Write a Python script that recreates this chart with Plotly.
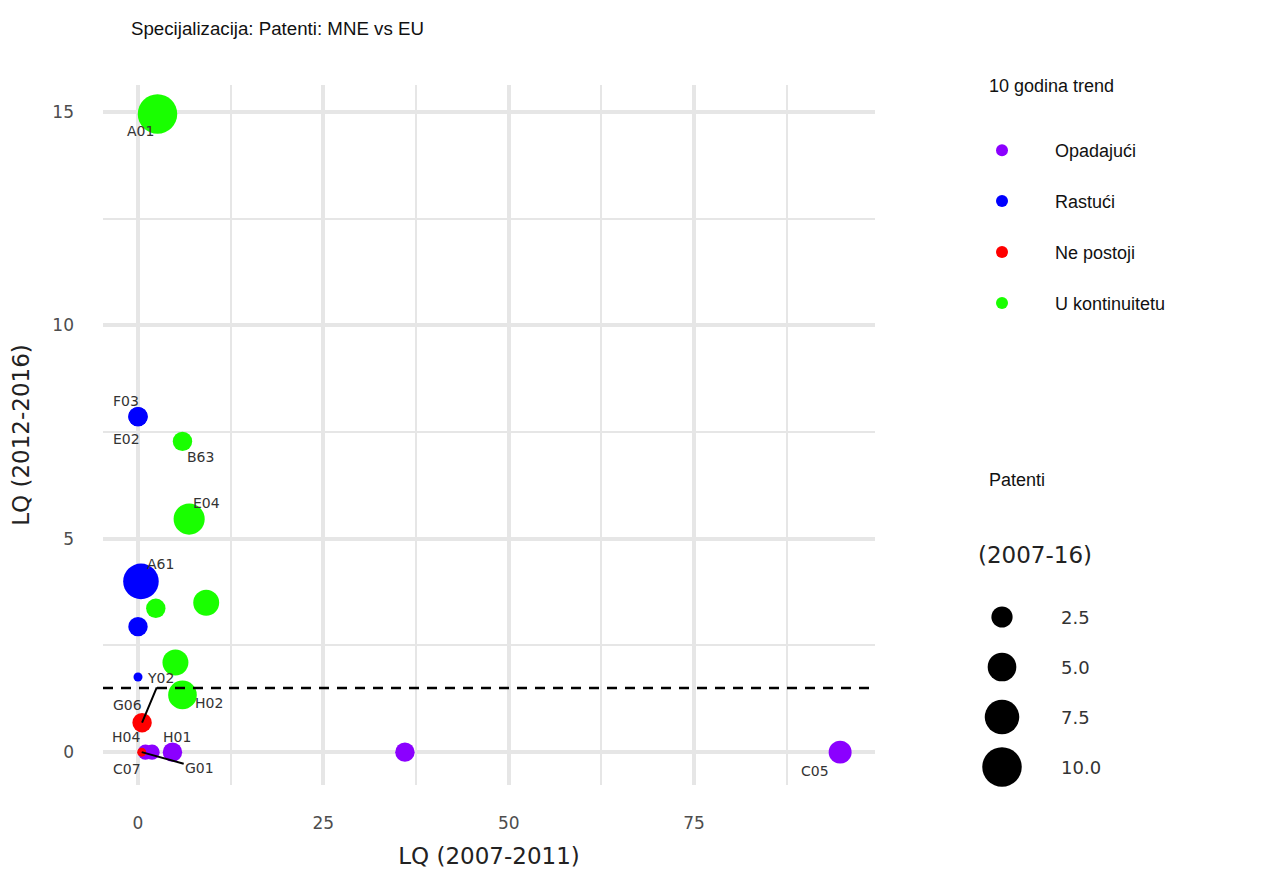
import math
import plotly.graph_objects as go

# ---------------- data ----------------
codes = ["H04", "C07", "H01", "", "C05",
         "F03", "E02", "A61", "", "G06",
         "Y02", "G01",
         "A01", "B63", "E04", "", "", "", "H02"]
lq_2007_2011 = [1.0, 1.9, 4.65, 36.0, 94.7,
                0.0, 0.0, 0.4, 0.0, 0.0,
                0.55, 0.5,
                2.63, 6.0, 6.9, 2.4, 9.2, 5.05, 6.0]
lq_2012_2016 = [0.0, 0.0, 0.0, 0.0, 0.0,
                7.86, 7.86, 4.0, 2.94, 1.76,
                0.69, 0.0,
                14.95, 7.28, 5.46, 3.37, 3.5, 2.1, 1.34]
patenti = [1, 1, 2, 2, 3,
           2, 2, 8, 2, 0,
           2, 0,
           10, 2, 6, 2, 4, 4, 5]
trend = ["Opadajući"] * 5 + ["Rastući"] * 5 + ["Ne postoji"] * 2 + ["U kontinuitetu"] * 7

trend_levels = ["Opadajući", "Rastući", "Ne postoji", "U kontinuitetu"]
size_breaks = [2.5, 5.0, 7.5, 10.0]
size_break_labels = ["2.5", "5.0", "7.5", "10.0"]
threshold = 1.5

title_text = "Specijalizacija: Patenti: MNE vs EU"
x_title = "LQ (2007-2011)"
y_title = "LQ (2012-2016)"
color_legend_title = "10 godina trend"
size_legend_title = "Patenti"
size_legend_sub = "(2007-16)"

# ---------------- styles ----------------
trend_colors = {"Opadajući": "#8B00FF", "Rastući": "#0000FF",
                "Ne postoji": "#FF0000", "U kontinuitetu": "#19FF00"}

# label offsets (pixels): (dx, dy) ; arrow labels use ax/ay
label_shift = {
    "A01": (-17.5, -17), "F03": (-12, 16), "E02": (-12, -22.5),
    "B63": (18, -16), "E04": (17, 16), "A61": (20, 17),
    "G06": (-11, -28), "H02": (27, -8), "H04": (-19, 15),
    "H01": (5, 15), "C07": (-25, -17), "C05": (-25, -19),
}
label_arrow = {"Y02": (18.7, -44.7), "G01": (58, 16)}

GRID = "#e6e6e6"
SANS = "Liberation Sans, Arial, sans-serif"
DV = "DejaVu Sans, Verdana, sans-serif"

# the page body adds an 8px offset; figure is sized so the plot lands where the reference has it
OFF = 8
W, H = 1283 - OFF, 870 - OFF
ML, MT, MB = 103 - OFF, 85 - OFF, 85
PW, PH = W - ML, H - MT - MB  # paper size in px (1180 x 700)


def px_x(p):  # page pixel -> paper x
    return (p - 103) / PW


def px_y(p):  # page pixel -> paper y
    return (785 - p) / PH


def size_scale(v):
    # bubble diameter in px (area scale)
    return math.sqrt(81 + 148 * v)


fig = go.Figure()

for lvl in trend_levels:
    idx = [i for i, t in enumerate(trend) if t == lvl]
    fig.add_trace(go.Scatter(
        x=[lq_2007_2011[i] for i in idx],
        y=[lq_2012_2016[i] for i in idx],
        mode="markers",
        name=lvl,
        legendgroup=lvl,
        text=[codes[i] for i in idx],
        marker=dict(color=trend_colors[lvl],
                    size=[size_scale(patenti[i]) for i in idx],
                    sizemode="diameter", line=dict(width=0), opacity=1),
        cliponaxis=False,
        xaxis="x", yaxis="y",
    ))

# size legend drawn as a small hidden subplot
fig.add_trace(go.Scatter(
    x=[42] * len(size_breaks), y=size_breaks, mode="markers",
    marker=dict(color="black", size=[size_scale(b) for b in size_breaks],
                sizemode="diameter", line=dict(width=0), opacity=1),
    showlegend=False, hoverinfo="skip", cliponaxis=False,
    xaxis="x2", yaxis="y2",
))

annotations = []
for i, c in enumerate(codes):
    if not c:
        continue
    if c in label_arrow:
        ax, ay = label_arrow[c]
        annotations.append(dict(
            x=lq_2007_2011[i], y=lq_2012_2016[i], xref="x", yref="y",
            text=c, showarrow=True, arrowhead=0, arrowwidth=2,
            arrowcolor="black", ax=ax, ay=ay, standoff=0,
            font=dict(family=DV, size=14, color="#333333")))
    else:
        dx, dy = label_shift[c]
        annotations.append(dict(
            x=lq_2007_2011[i], y=lq_2012_2016[i], xref="x", yref="y",
            text=c, showarrow=False, xshift=dx, yshift=dy,
            font=dict(family=DV, size=14, color="#333333")))

for b, lab in zip(size_breaks, size_break_labels):
    annotations.append(dict(
        x=99, y=b, xref="x2", yref="y2", text=lab, showarrow=False,
        xanchor="left", yanchor="middle",
        font=dict(family=DV, size=18, color="#333333")))

annotations += [
    dict(x=px_x(987), y=px_y(86), xref="paper", yref="paper",
         text=color_legend_title, showarrow=False, xanchor="left", yanchor="middle",
         font=dict(family=SANS, size=18, color="#111111")),
    dict(x=px_x(987), y=px_y(480), xref="paper", yref="paper",
         text=size_legend_title, showarrow=False, xanchor="left", yanchor="middle",
         font=dict(family=SANS, size=18, color="#111111")),
    dict(x=px_x(976), y=px_y(555), xref="paper", yref="paper",
         text=size_legend_sub, showarrow=False, xanchor="left", yanchor="middle",
         font=dict(family=DV, size=23, color="#222222")),
]

fig.add_shape(type="line", xref="x domain", yref="y", x0=0, x1=1,
              y0=threshold, y1=threshold,
              line=dict(color="black", width=2.5, dash="10px,8px"))

fig.update_layout(
    width=W, height=H,
    margin=dict(l=ML, r=0, t=MT, b=MB),
    paper_bgcolor="white", plot_bgcolor="white",
    title=dict(text=title_text, x=(131 - OFF) / W, xanchor="left",
               y=1 - (28 - OFF) / H, yanchor="middle",
               font=dict(family=SANS, size=18.7, color="#111111")),
    xaxis=dict(domain=[0, 772 / PW], range=[-4.72, 99.4], tick0=0, dtick=25,
               showgrid=True, gridcolor=GRID, gridwidth=4, zeroline=False,
               showline=False, ticks="", ticklabelstandoff=26,
               minor=dict(dtick=12.5, tick0=0, showgrid=True, gridcolor=GRID, gridwidth=2),
               tickfont=dict(family=DV, size=17, color="#4d4d4d"),
               title=dict(text=x_title, standoff=15,
                          font=dict(family=DV, size=23, color="#222222"))),
    yaxis=dict(domain=[0, 1], range=[-0.77, 15.63], tick0=0, dtick=5,
               showgrid=True, gridcolor=GRID, gridwidth=4, zeroline=False,
               showline=False, ticks="", ticklabelstandoff=28,
               minor=dict(dtick=2.5, tick0=0, showgrid=True, gridcolor=GRID, gridwidth=2),
               tickfont=dict(family=DV, size=17, color="#4d4d4d"),
               title=dict(text=y_title, standoff=19,
                          font=dict(family=DV, size=23, color="#222222"))),
    xaxis2=dict(domain=[px_x(960), px_x(1200)], range=[0, 240], visible=False,
                anchor="y2", fixedrange=True),
    yaxis2=dict(domain=[0, 210 / PH], range=[10.9, 0.4], visible=False,
                anchor="x2", fixedrange=True),
    legend=dict(x=px_x(949), xanchor="left", y=px_y(132),
                yanchor="top", itemwidth=96, itemsizing="constant",
                tracegroupgap=24.5, bgcolor="rgba(0,0,0,0)",
                font=dict(family=SANS, size=18, color="#111111")),
    annotations=annotations,
    showlegend=True,
)

fig.write_html("out.html")
